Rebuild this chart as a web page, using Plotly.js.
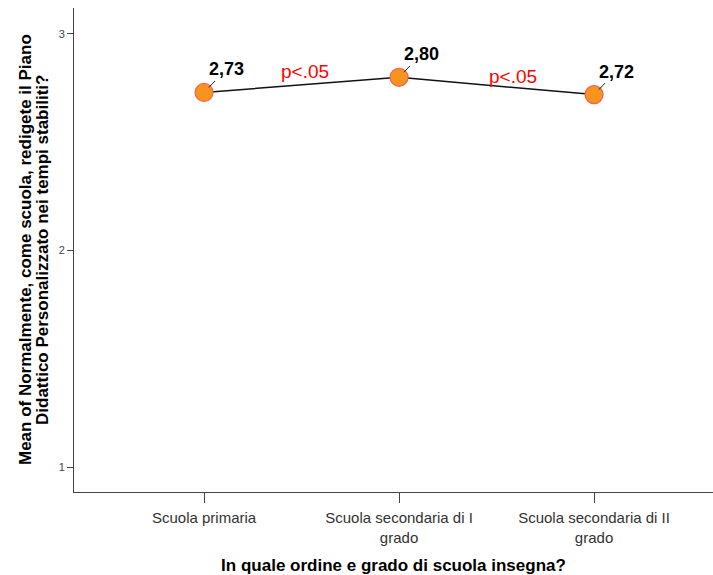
<!DOCTYPE html>
<html>
<head>
<meta charset="utf-8">
<script src="https://cdn.plot.ly/plotly-3.0.1.min.js"></script>
<style>html,body{margin:0;padding:0;background:#fff;}#chart{width:713px;height:575px;}</style>
</head>
<body>
<div id="chart"></div>
<script>
const categories = ["Scuola primaria", "Scuola secondaria di I<br>grado", "Scuola secondaria di II<br>grado"];
const means = [2.73, 2.80, 2.72];
const meanLabels = ["2,73", "2,80", "2,72"];
const pLabels = ["p<.05", "p<.05"];
const pX = [0.52, 1.585];
const pY = [2.825, 2.804];
const yTicks = [1, 2, 3];
const yTitleLines = ["Mean of Normalmente, come scuola, redigete il Piano", "Didattico Personalizzato nei tempi stabiliti?"];
const xTitle = "In quale ordine e grado di scuola insegna?";

const xIdx = categories.map((c, i) => i);
const FONT = "Liberation Sans, Arial, sans-serif";

const trace = {
  x: xIdx,
  y: means,
  mode: "lines+markers",
  type: "scatter",
  line: {color: "#111111", width: 1.5},
  marker: {size: 18, color: "#F7941D", line: {color: "#F0645A", width: 1.2}},
  hoverinfo: "skip"
};

const annotations = [];
means.forEach((v, i) => {
  annotations.push({
    x: xIdx[i], y: v, xref: "x", yref: "y",
    text: "<b>" + meanLabels[i] + "</b>",
    showarrow: true, arrowhead: 0, arrowwidth: 1, arrowcolor: "#222",
    standoff: 7, ax: 22, ay: -23,
    font: {family: FONT, size: 18, color: "#000"}
  });
});
pLabels.forEach((t, i) => {
  annotations.push({
    x: pX[i], y: pY[i], xref: "x", yref: "y",
    text: t, showarrow: false,
    font: {family: FONT, size: 19, color: "#FF0000"}
  });
});
const yTitleX = [25, 42];
yTitleLines.forEach((t, i) => {
  annotations.push({
    xref: "paper", yref: "paper",
    x: (yTitleX[i] - 74) / 639, y: 0.5,
    xanchor: "center", yanchor: "middle",
    text: "<b>" + t + "</b>", textangle: -90, showarrow: false,
    font: {family: FONT, size: 17, color: "#000"}
  });
});

const layout = {
  width: 713, height: 575,
  margin: {l: 74, r: 0, t: 8, b: 83},
  paper_bgcolor: "#fff", plot_bgcolor: "#fff",
  showlegend: false,
  font: {family: FONT},
  xaxis: {
    range: [-0.667, 2.61],
    tickvals: xIdx, ticktext: categories,
    showgrid: false, zeroline: false,
    showline: true, linecolor: "#444", linewidth: 1,
    ticks: "outside", ticklen: 10, tickcolor: "#444", tickwidth: 1,
    ticklabelstandoff: 2,
    tickfont: {size: 15, color: "#333"},
    title: {text: "<b>" + xTitle + "</b>", font: {size: 17, color: "#000"}, standoff: 16}
  },
  yaxis: {
    range: [0.885, 3.12],
    tickvals: yTicks, ticktext: yTicks.map(String),
    showgrid: false, zeroline: false,
    showline: true, linecolor: "#444", linewidth: 1,
    ticks: "outside", ticklen: 6, tickcolor: "#444", tickwidth: 1,
    tickfont: {size: 11, color: "#444"}
  },
  annotations: annotations
};

Plotly.newPlot("chart", [trace], layout, {displayModeBar: false, staticPlot: true});
</script>
</body>
</html>
